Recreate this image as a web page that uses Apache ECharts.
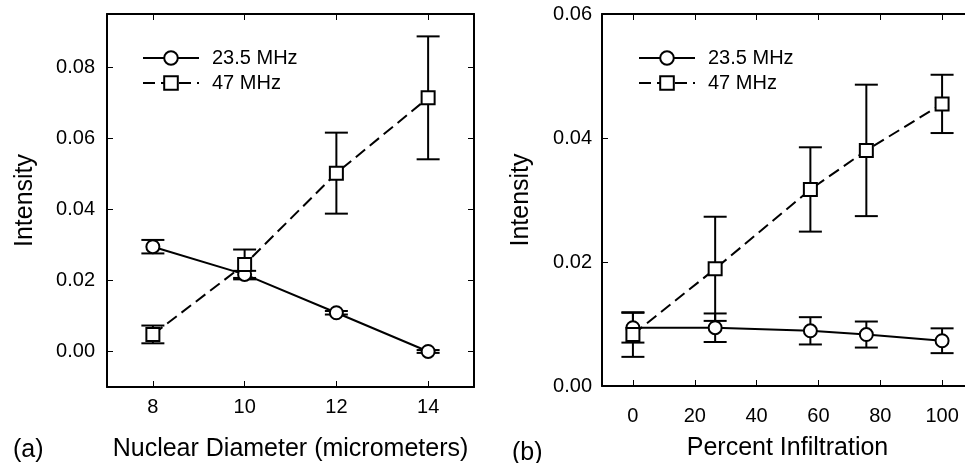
<!DOCTYPE html>
<html>
<head>
<meta charset="utf-8">
<script src="https://cdn.jsdelivr.net/npm/echarts@6/dist/echarts.min.js"></script>
<style>
html,body{margin:0;padding:0;background:#fff;}
#c{width:965px;height:463px;}
</style>
</head>
<body>
<div id="c"></div>
<script>
// Panel (a): Nuclear Diameter
const xA = [8, 10, 12, 14];
const a235 = [0.0295, 0.0217, 0.0109, 0.0000];
const a235Err = [0.0019, 0.0010, 0.0005, 0.0004];
const a47 = [0.0048, 0.0245, 0.0502, 0.0714];
const a47Err = [0.0025, 0.0042, 0.0114, 0.0173];
const xTicksA = [8, 10, 12, 14];
const yTicksA = [0, 0.02, 0.04, 0.06, 0.08];

// Panel (b): Percent Infiltration
const xB = [0, 26.6, 57.4, 75.5, 100];
const b235 = [0.0094, 0.0094, 0.0089, 0.0083, 0.0073];
const b235Err = [0.0024, 0.0023, 0.0022, 0.0021, 0.0020];
const b47 = [0.0083, 0.0189, 0.0317, 0.0380, 0.0455];
const b47Err = [0.0036, 0.0084, 0.0068, 0.0106, 0.0047];
const xTicksB = [0, 20, 40, 60, 80, 100];
const yTicksB = [0, 0.02, 0.04, 0.06];

const names = ['23.5 MHz', '47 MHz'];
const FONT = '"Liberation Sans", Arial, sans-serif';

const pts = (xs, ys) => xs.map((x, i) => [x, ys[i]]);
const errs = (xs, ys, es) => xs.map((x, i) => [x, ys[i] - es[i], ys[i] + es[i]]);

function errRender(params, api) {
  const x = api.value(0), lo = api.value(1), hi = api.value(2);
  const p1 = api.coord([x, lo]), p2 = api.coord([x, hi]);
  const w = 11.5;
  const st = { stroke: '#000', lineWidth: 2, fill: null };
  return {
    type: 'group',
    children: [
      { type: 'line', shape: { x1: p1[0], y1: p1[1], x2: p2[0], y2: p2[1] }, style: st },
      { type: 'line', shape: { x1: p1[0] - w, y1: p1[1], x2: p1[0] + w, y2: p1[1] }, style: st },
      { type: 'line', shape: { x1: p2[0] - w, y1: p2[1], x2: p2[0] + w, y2: p2[1] }, style: st }
    ]
  };
}

const axisLineStyle = { show: true, onZero: false, lineStyle: { color: '#000', width: 2 } };
const tickInside = (vals) => ({ show: true, inside: true, length: 6, lineStyle: { color: '#000', width: 1 }, customValues: vals });
const labelStyle = { color: '#000', fontSize: 20, fontFamily: FONT };
const nameStyle = { color: '#000', fontSize: 25, fontFamily: FONT };

function xAxisPair(grid, min, max, ticks, name, margin, nameGap) {
  return [
    { type: 'value', gridIndex: grid, position: 'bottom', min: min, max: max,
      axisLine: axisLineStyle, axisTick: tickInside(ticks),
      axisLabel: Object.assign({ margin: margin, customValues: ticks }, labelStyle),
      splitLine: { show: false },
      name: name, nameLocation: 'middle', nameGap: nameGap, nameTextStyle: nameStyle },
    { type: 'value', gridIndex: grid, position: 'top', min: min, max: max,
      axisLine: axisLineStyle, axisTick: tickInside(ticks),
      axisLabel: { show: false }, splitLine: { show: false } }
  ];
}
function yAxisPair(grid, min, max, ticks, margin, nameGap) {
  return [
    { type: 'value', gridIndex: grid, position: 'left', min: min, max: max,
      axisLine: axisLineStyle, axisTick: tickInside(ticks),
      axisLabel: Object.assign({ margin: margin, customValues: ticks, formatter: v => v.toFixed(2) }, labelStyle),
      splitLine: { show: false },
      name: 'Intensity', nameLocation: 'middle', nameGap: nameGap, nameTextStyle: nameStyle },
    { type: 'value', gridIndex: grid, position: 'right', min: min, max: max,
      axisLine: axisLineStyle, axisTick: tickInside(ticks),
      axisLabel: { show: false }, splitLine: { show: false } }
  ];
}

function lineSeries(name, xi, yi, data, symbol, dashed) {
  return {
    type: 'line', name: name, xAxisIndex: xi, yAxisIndex: yi, data: data,
    symbol: symbol, symbolSize: 13, z: 5,
    lineStyle: { color: '#000', width: 2, type: dashed ? [12, 6] : 'solid' },
    itemStyle: { color: '#fff', borderColor: '#000', borderWidth: 2 },
    emphasis: { disabled: true }, animation: false
  };
}
function errSeries(xi, yi, data) {
  return { type: 'custom', xAxisIndex: xi, yAxisIndex: yi, data: data, renderItem: errRender, z: 3, animation: false, silent: true };
}

function legendAt(left) {
  return {
    data: names, orient: 'vertical', left: left, top: 43,
    itemWidth: 56, itemHeight: 17, itemGap: 5,
    textStyle: { color: '#000', fontSize: 20, fontFamily: FONT, lineHeight: 20, padding: [0, 0, 0, 8] },
    selectedMode: false
  };
}

const option = {
  backgroundColor: '#fff',
  animation: false,
  grid: [
    { left: 107, top: 14, width: 367, height: 373, outerBoundsMode: 'none', containLabel: false },
    { left: 602, top: 14, width: 371, height: 372, outerBoundsMode: 'none', containLabel: false }
  ],
  xAxis: [].concat(
    xAxisPair(0, 7, 15, xTicksA, 'Nuclear Diameter (micrometers)', 10, 50),
    xAxisPair(1, -10, 110, xTicksB, 'Percent Infiltration', 20, 50)
  ),
  yAxis: [].concat(
    yAxisPair(0, -0.01, 0.095, yTicksA, 12, 69),
    yAxisPair(1, 0, 0.06, yTicksB, 10, 68)
  ),
  legend: [legendAt(137), legendAt(633)],
  graphic: [
    { type: 'text', left: 13, top: 438, style: { text: '(a)', fontSize: 25, fontFamily: FONT, fill: '#000' } },
    { type: 'text', left: 512, top: 441, style: { text: '(b)', fontSize: 25, fontFamily: FONT, fill: '#000' } }
  ],
  series: [
    errSeries(0, 0, errs(xA, a235, a235Err)),
    errSeries(0, 0, errs(xA, a47, a47Err)),
    lineSeries(names[0], 0, 0, pts(xA, a235), 'circle', false),
    lineSeries(names[1], 0, 0, pts(xA, a47), 'rect', true),
    errSeries(2, 2, errs(xB, b235, b235Err)),
    errSeries(2, 2, errs(xB, b47, b47Err)),
    lineSeries(names[0], 2, 2, pts(xB, b235), 'circle', false),
    lineSeries(names[1], 2, 2, pts(xB, b47), 'rect', true)
  ]
};

const chart = echarts.init(document.getElementById('c'), null, { renderer: 'canvas' });
chart.setOption(option);
</script>
</body>
</html>
